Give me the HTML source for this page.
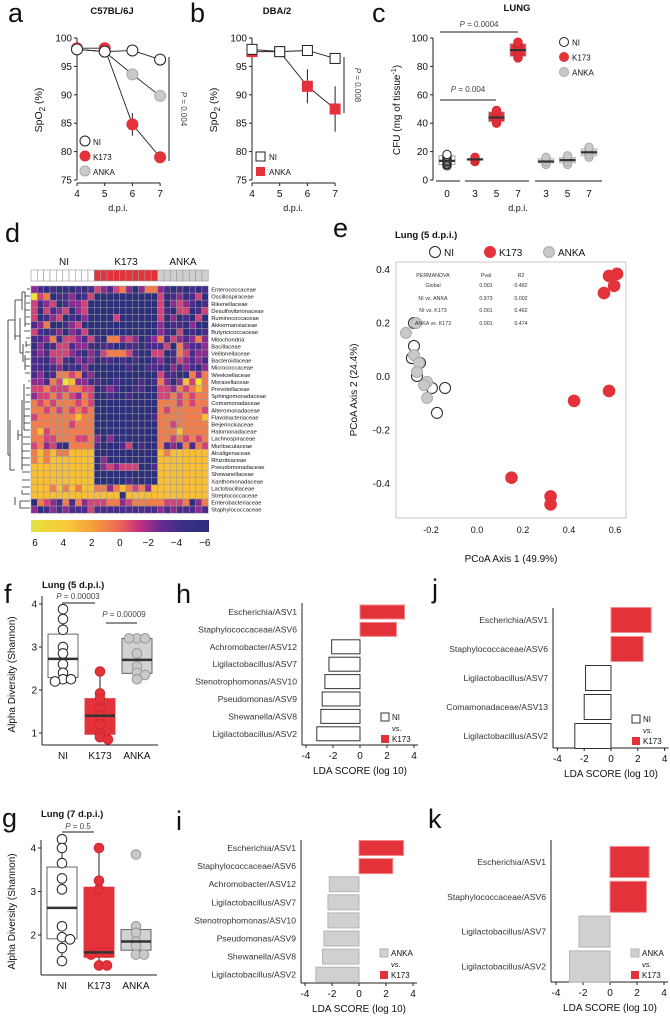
<!DOCTYPE html>
<html><head><meta charset="utf-8"><style>
html,body{margin:0;padding:0;background:#fff}
svg{display:block;font-family:"Liberation Sans",Arial,sans-serif}
</style></head><body>
<svg id="fig" width="670" height="1016" viewBox="0 0 670 1016" xmlns="http://www.w3.org/2000/svg">
<defs><linearGradient id="cbar" x1="0" x2="1" y1="0" y2="0">
<stop offset="0" stop-color="#e4e23c"/><stop offset="0.2" stop-color="#f8c938"/><stop offset="0.36" stop-color="#f59a3c"/><stop offset="0.5" stop-color="#ec6656"/><stop offset="0.6" stop-color="#c8327f"/><stop offset="0.72" stop-color="#6e2a8e"/><stop offset="0.85" stop-color="#3a2f86"/><stop offset="1" stop-color="#2d2f7a"/></linearGradient></defs>
<g font-size="27" fill="#111">
<text x="8" y="22">a</text>
<text x="190" y="22">b</text>
<text x="372" y="22">c</text>
<text x="5" y="242">d</text>
<text x="333" y="237">e</text>
<text x="4" y="603">f</text>
<text x="176" y="603">h</text>
<text x="432" y="598">j</text>
<text x="2" y="827">g</text>
<text x="176" y="830">i</text>
<text x="428" y="828">k</text>
</g>
<g font-weight="bold" font-size="9.5" fill="#111">
<text x="112" y="14" text-anchor="middle">C57BL/6J</text>
<text x="277" y="14" text-anchor="middle">DBA/2</text>
<text x="517" y="11" text-anchor="middle">LUNG</text>
<text x="395" y="238">Lung (5 d.p.i.)</text>
<text x="42" y="588">Lung (5 d.p.i.)</text>
<text x="41" y="817">Lung (7 d.p.i.)</text>
</g>
</svg>
<script>
// ---------- data ----------
const aDays=[4,5,6,7];
const aNI=[98,97.6,97.8,96.2];
const aK173=[98.2,98.2,84.8,79];
const aANKA=[98,97.6,93.6,89.8];
const aK173Err=[0,0,2,0];
const bNI=[98,97.6,97.8,96.4];
const bANKA=[97.6,97.6,91.5,87.5];
const bANKAErr=[0,0,3,4];
const spTicks=[100,95,90,85,80,75];
const cLabels=['0','3','5','7','3','5','7'];
const cGroups=['NI','K173','K173','K173','ANKA','ANKA','ANKA'];
const cMedian=[13.5,14.5,44,91.5,13,14,19.5];
const cPoints=[[10,11,12,13,14,15,16,17,18],[13,14,15,16],[40,42,44,46,48,49],[86,88,90,92,94,96,97],[11,13,15,16],[11,13,15,17],[16,18,20,22,23]];
const cTicks=[0,20,40,60,80,100];
const hmRows=['Enterococcaceae','Oscillospiraceae','Rikenellaceae','Desulfovibrionaceae','Ruminococcaceae','Akkermansiaceae','Butyricicoccaceae','Mitochondria','Bacillaceae','Veillonellaceae','Bacteroidaceae','Micrococcaceae','Weeksellaceae','Moraxellaceae','Prevotellaceae','Sphingomonadaceae','Comamonadaceae','Alteromonadaceae','Flavobacteriaceae','Beijerinckiaceae','Halomonadaceae','Lachnospiraceae','Muribaculaceae','Alcaligenaceae','Rhizobiaceae','Pseudomonadaceae','Shewanellaceae','Xanthomonadaceae','Lactobacillaceae','Streptococcaceae','Enterobacteriaceae','Staphylococcaceae'];
const hmGroups=['NI','NI','NI','NI','NI','NI','NI','NI','NI','NI','K173','K173','K173','K173','K173','K173','K173','K173','K173','K173','ANKA','ANKA','ANKA','ANKA','ANKA','ANKA','ANKA','ANKA'];
const hmValues=[
"2101000101"+"3213420244"+"21010101",
"6340112013"+"0000000000"+"30120130",
"3123012230"+"0000000000"+"30232101",
"3031230230"+"0000000000"+"31033013",
"3012301020"+"0003000000"+"30201030",
"1240012300"+"0000000000"+"20110200",
"3101202130"+"0000000000"+"21030101",
"1124133213"+"1044232012"+"41321242",
"0201331221"+"0110011011"+"13042112",
"1213332102"+"1344431003"+"30143122",
"1102310212"+"0110101001"+"20132121",
"1101201020"+"0000010011"+"10212102",
"1201443412"+"0000000000"+"31100424",
"2214365221"+"1001000101"+"42025364",
"3343334433"+"0121001100"+"33243454",
"2334343243"+"0010010000"+"33434344",
"4343444343"+"0000000000"+"44434344",
"4434343434"+"0000000000"+"43444443",
"3444444544"+"0000000001"+"44444445",
"4444443444"+"0000000000"+"44344444",
"4534444444"+"0000000000"+"44454444",
"4433444334"+"2020000000"+"44343434",
"3423104444"+"1000130100"+"41214143",
"4545445555"+"0000000000"+"54555555",
"4545555555"+"0200000000"+"55555555",
"5555555555"+"0232333001"+"55555555",
"5555555555"+"0000000000"+"55555555",
"5555555555"+"0000010000"+"55555555",
"5554545455"+"4424543425"+"55555555",
"5555555555"+"5555055555"+"55555555",
"0432141423"+"3344234444"+"43334024",
"2012121113"+"1111111111"+"21211121"];
const hmTicks=['6','4','2','0','\u22122','\u22124','\u22126'];
const eNI=[[-0.274,0.198],[-0.274,0.112],[-0.283,0.067],[-0.248,0.049],[-0.261,0],[-0.196,-0.045],[-0.139,-0.045],[-0.174,-0.138]];
const eK173=[[0.574,0.374],[0.609,0.382],[0.596,0.337],[0.552,0.31],[0.574,-0.056],[0.422,-0.093],[0.15,-0.38],[0.32,-0.45],[0.32,-0.48]];
const eANKA=[[-0.265,0.198],[-0.309,0.161],[-0.274,0.078],[-0.252,0.049],[-0.261,0.015],[-0.217,-0.022],[-0.23,-0.034],[-0.217,-0.082]];
const eXTicks=[-0.2,0,0.2,0.4,0.6];
const eYTicks=[0.4,0.2,0,-0.2,-0.4];
const fNI=[3.88,3.65,3.4,3.0,2.85,2.6,2.4,2.25,2.2,2.25];
const fK173=[2.43,1.92,1.8,1.55,1.4,1.2,0.97,0.9,0.85];
const fANKA=[3.2,3.2,3.2,2.85,2.55,2.4,2.35,2.25];
const gNI=[4.2,4.0,3.65,3.3,3.05,2.2,1.95,1.9,1.7,1.4];
const gK173=[4.0,3.25,3.05,1.6,1.6,1.55,1.3,1.3];
const gANKA=[3.85,2.2,2.05,1.85,1.75,1.55,1.55];
const hLabels=['Escherichia/ASV1','Staphylococcaceae/ASV6','Achromobacter/ASV12','Ligilactobacillus/ASV7','Stenotrophomonas/ASV10','Pseudomonas/ASV9','Shewanella/ASV8','Ligilactobacillus/ASV2'];
const hValues=[3.3,2.7,-2.1,-2.3,-2.6,-2.8,-2.9,-3.2];
const iLabels=['Escherichia/ASV1','Staphylococcaceae/ASV6','Achromobacter/ASV12','Ligilactobacillus/ASV7','Stenotrophomonas/ASV10','Pseudomonas/ASV9','Shewanella/ASV8','Ligilactobacillus/ASV2'];
const iValues=[3.3,2.5,-2.2,-2.3,-2.3,-2.6,-2.7,-3.2];
const jLabels=['Escherichia/ASV1','Staphylococcaceae/ASV6','Ligilactobacillus/ASV7','Comamonadaceae/ASV13','Ligilactobacillus/ASV2'];
const jValues=[3.0,2.4,-1.9,-2.0,-2.7];
const kLabels=['Escherichia/ASV1','Staphylococcaceae/ASV6','Ligilactobacillus/ASV7','Ligilactobacillus/ASV2'];
const kValues=[2.9,2.7,-2.3,-3.0];
const ldaTicks=[-4,-2,0,2,4];

// ---------- helpers ----------
const NS='http://www.w3.org/2000/svg';
const svg=document.getElementById('fig');
const RED='#e3323a', GREY='#c9c9c9', DARK='#222';
function el(tag,attrs,name){
  const e=document.createElementNS(NS,tag);
  for(const k in attrs) e.setAttribute(k,attrs[k]);
  svg.appendChild(e);
  
  
  return e;
}
function txt(x,y,s,size,anchor,name,extra){
  const t=el('text',Object.assign({x:x,y:y,'font-size':size,'text-anchor':anchor||'start',fill:'#111'},extra||{}),name);
  t.textContent=s;
  return t;
}
function ptxt(x,y,val,size,anchor,name,extra){
  const t=el('text',Object.assign({x:x,y:y,'font-size':size,'text-anchor':anchor||'start',fill:'#444'},extra||{}),name);
  t.innerHTML='<tspan font-style="italic">P</tspan> = '+val;
  return t;
}
function line(x1,y1,x2,y2,name,w,col){
  return el('line',{x1:x1,y1:y1,x2:x2,y2:y2,stroke:col||'#222','stroke-width':w||1},name);
}
function dot(x,y,r,fill,stroke,name){
  return el('circle',{cx:x,cy:y,r:r,fill:fill,stroke:stroke,'stroke-width':1},name);
}

// ---------- panel a ----------
const ya=v=>38+(100-v)*5.68;
const xa=d=>77+(d-4)*27.7;
function spAxes(x0,prefix){
  line(x0,38,x0,180,prefix+'-y-axis');
  spTicks.forEach(v=>{line(x0-3,ya(v),x0,ya(v),prefix+'-y-tick');txt(x0-5,ya(v)+3.5,String(v),10,'end',prefix+'-y-tick-label');});
  line(x0,183,x0+83,183,prefix+'-x-axis');
  aDays.forEach(d=>{const x=x0+(d-4)*27.7;line(x,183,x,186,prefix+'-x-tick');txt(x,197,String(d),10,'middle',prefix+'-x-tick-label');});
  txt(x0+41,211,'d.p.i.',9,'middle',prefix+'-x-axis-title');
  const t=txt(0,0,'',10.5,'middle',prefix+'-y-axis-title',{transform:'translate('+(x0-35)+',110) rotate(-90)'});
  t.innerHTML='SpO<tspan font-size="8" dy="3">2</tspan><tspan dy="-3"> (%)</tspan>';
}
spAxes(77,'panel-a');
function series(xs,vals,xf,name){
  const p=vals.map((v,i)=>xf(xs[i])+','+ya(v)).join(' ');
  el('polyline',{points:p,fill:'none',stroke:'#222','stroke-width':0.9},name);
}
series(aDays,aK173,xa,'k173-line');
series(aDays,aANKA,xa,'anka-line');
series(aDays,aNI,xa,'ni-line');
aK173.forEach((v,i)=>{if(aK173Err[i])line(xa(aDays[i]),ya(v+aK173Err[i]),xa(aDays[i]),ya(v-aK173Err[i]),'k173-error-bar');});
aK173.forEach((v,i)=>dot(xa(aDays[i]),ya(v),5.5,RED,RED,'k173-point'));
aANKA.forEach((v,i)=>dot(xa(aDays[i]),ya(v),5.5,GREY,'#aaa','anka-point'));
aNI.forEach((v,i)=>dot(xa(aDays[i]),ya(v),5.5,'#fff','#222','ni-point'));
line(169,57,169,161,'p-value-bracket-a');
ptxt(0,0,'0.004',8,'middle','p-value-a',{transform:'translate(181,109) rotate(90)'});
dot(85,141,5,'#fff','#222','legend-ni-marker');txt(93,145,'NI',8,'start','legend-ni-label');
dot(85,156,5,RED,RED,'legend-k173-marker');txt(93,160,'K173',8,'start','legend-k173-label');
dot(85,171,5,GREY,'#aaa','legend-anka-marker');txt(93,175,'ANKA',8,'start','legend-anka-label');

// ---------- panel b ----------
const xb=d=>252+(d-4)*27.7;
spAxes(252,'panel-b');
series(aDays,bANKA,xb,'anka-line');
series(aDays,bNI,xb,'ni-line');
bANKA.forEach((v,i)=>{if(bANKAErr[i])line(xb(aDays[i]),ya(v+bANKAErr[i]),xb(aDays[i]),ya(v-bANKAErr[i]),'anka-error-bar');});
bANKA.forEach((v,i)=>el('rect',{x:xb(aDays[i])-5.5,y:ya(v)-5.5,width:11,height:11,fill:RED},'anka-point'));
bNI.forEach((v,i)=>el('rect',{x:xb(aDays[i])-5,y:ya(v)-5,width:10,height:10,fill:'#fff',stroke:'#222'},'ni-point'));
line(344,57,344,113,'p-value-bracket-b');
ptxt(0,0,'0.008',8,'middle','p-value-b',{transform:'translate(355,85) rotate(90)'});
el('rect',{x:256,y:152,width:9,height:9,fill:'#fff',stroke:'#222'},'legend-ni-marker');txt(269,160,'NI',8,'start','legend-ni-label');
el('rect',{x:256,y:167,width:9,height:9,fill:RED},'legend-anka-marker');txt(269,175,'ANKA',8,'start','legend-anka-label');

// ---------- panel c ----------
const yc=v=>180-v*1.42;
function xc(i){const g=cGroups[i];if(g==='NI')return 447;if(g==='K173')return 475+(i-1)*21.5;return 546+(i-4)*21.5;}
line(433,38,433,180,'panel-c-y-axis');
cTicks.forEach(v=>{line(430,yc(v),433,yc(v),'panel-c-y-tick');txt(428,yc(v)+3.5,String(v),10,'end','panel-c-y-tick-label');});
line(436,181,460,181,'panel-c-x-axis-ni');line(465,181,529,181,'panel-c-x-axis-k173');line(535,181,602,181,'panel-c-x-axis-anka');
cLabels.forEach((l,i)=>txt(xc(i),197,l,10,'middle','panel-c-x-tick-label'));
txt(518,211,'d.p.i.',9,'middle','panel-c-x-axis-title');
{const t=txt(0,0,'',10,'middle','panel-c-y-axis-title',{transform:'translate(400,110) rotate(-90)'});t.innerHTML='CFU (mg of tissue<tspan font-size="7" dy="-4">-1</tspan><tspan dy="4">)</tspan>';}
cPoints.forEach((pts,i)=>{
  const g=cGroups[i];const mn=Math.min(...pts),mx=Math.max(...pts);
  const fill=g==='NI'?'#fff':g==='K173'?RED:'#d4d4d4';
  el('rect',{x:xc(i)-8,y:yc(mx-1),width:16,height:yc(mn+1)-yc(mx-1),fill:fill,stroke:g==='NI'?'#888':'#bbb','stroke-width':0.8},'cfu-box-'+g.toLowerCase());
  pts.forEach(v=>dot(xc(i),yc(v),4.2,g==='NI'?'#fff':g==='K173'?RED:GREY,g==='NI'?'#222':g==='K173'?'#d02830':'#aaa','cfu-point-'+g.toLowerCase()));
  line(xc(i)-8,yc(cMedian[i]),xc(i)+8,yc(cMedian[i]),'cfu-median',2.2,'#333');
});
line(440,32,518,32,'p-bracket-0004');ptxt(479,27,'0.0004',8,'middle','p-value-0004');
line(440,100,496,100,'p-bracket-004');ptxt(468,92,'0.004',8,'middle','p-value-004');
dot(564,42,4.5,'#fff','#222','legend-ni-marker');txt(572,45.5,'NI',8,'start','legend-ni-label');
dot(564,57,4.5,RED,RED,'legend-k173-marker');txt(572,60.5,'K173',8,'start','legend-k173-label');
dot(564,72,4.5,GREY,'#aaa','legend-anka-marker');txt(572,75.5,'ANKA',8,'start','legend-anka-label');

// ---------- panel d heatmap ----------
const hmColors=['#2d2f7c','#4a2b8c','#8c2b90','#d2437a','#f07d4c','#f8bf36','#f1e534'];
const HX=31,HY=286,CW=6.33,RH=7.1;
txt(64,265,'NI',10,'middle','heatmap-group-ni');
txt(126,265,'K173',10,'middle','heatmap-group-k173');
txt(183,265,'ANKA',10,'middle','heatmap-group-anka');
hmGroups.forEach((g,c)=>el('rect',{x:HX+c*CW,y:270,width:CW,height:11,fill:g==='NI'?'#fff':g==='K173'?RED:'#cfcfcf',stroke:'#999','stroke-width':0.6},'heatmap-column-annotation'));
hmValues.forEach((row,r)=>{
  for(let c=0;c<row.length;c++){
    el('rect',{x:HX+c*CW,y:HY+r*RH,width:CW,height:RH,fill:hmColors[+row[c]],stroke:'#9a9a9a','stroke-width':0.5},'heatmap-cell');
  }
  txt(HX+hmGroups.length*CW+3,HY+r*RH+5.6,hmRows[r],5.8,'start','heatmap-row-label');
});
el('path',{d:'M30,289 H27 M30,296 H25 M30,303 H26 M30,310 H25 M30,317 H26 M30,324 H25 M30,331 H24 M25,292 V327 M22,292 H25 M22,292 V310 M15,300 H22 M30,338 H26 M30,345 H26 M30,352 H25 M30,359 H25 M30,366 H25 M30,373 H25 M26,341 V347 M25,355 V370 M23,344 V362 M20,353 H23 M20,353 V318 M15,336 H20 M30,381 H28 M30,388 H26 M30,395 H26 M30,402 H25 M30,409 H25 M30,416 H24 M30,423 H24 M30,430 H24 M30,437 H23 M30,444 H23 M30,451 H22 M30,458 H22 M30,465 H22 M30,472 H22 M30,480 H22 M30,487 H22 M24,384 V430 M22,400 V470 M18,430 V440 M18,435 H22 M30,494 H22 M30,501 H20 M30,508 H20 M22,494 V490 M20,501 V508 M15,497 V505 M10,420 V470 M10,470 H15 M15,300 V340 M8,320 H15 M8,320 V455 M8,455 H10',fill:'none',stroke:'#222','stroke-width':0.8},'heatmap-dendrogram');
el('rect',{x:31,y:520,width:178,height:12,fill:'url(#cbar)'},'heatmap-colorbar');
hmTicks.forEach((t,i)=>txt(35+i*28.3,546,t,10,'middle','colorbar-tick-label'));

// ---------- panel e PCoA ----------
const xe=v=>477+v*230, ye=v=>376-v*267.5;
el('rect',{x:396,y:262,width:230,height:256,fill:'none',stroke:'#bbb','stroke-width':0.8},'pcoa-plot-frame');
eYTicks.forEach(v=>txt(390,ye(v)+4,v.toFixed(1).replace('-0.0','0.0'),10,'end','pcoa-y-tick-label'));
eXTicks.forEach(v=>txt(xe(v),533,v.toFixed(1),9,'middle','pcoa-x-tick-label'));
txt(511,562,'PCoA Axis 1 (49.9%)',10,'middle','pcoa-x-axis-title');
txt(0,0,'PCoA Axis 2 (24.4%)',10,'middle','pcoa-y-axis-title',{transform:'translate(357,390) rotate(-90)'});
eNI.forEach(p=>dot(xe(p[0]),ye(p[1]),5.5,'#fff','#222','pcoa-ni-point'));
eANKA.forEach(p=>dot(xe(p[0]),ye(p[1]),5.5,GREY,'#aaa','pcoa-anka-point'));
eK173.forEach(p=>dot(xe(p[0]),ye(p[1]),5.8,RED,RED,'pcoa-k173-point'));
dot(435,252,5.5,'#fff','#222','legend-ni-marker');txt(444,256,'NI',10,'start','legend-ni-label');
dot(490,252,5.5,RED,RED,'legend-k173-marker');txt(499,256,'K173',10,'start','legend-k173-label');
dot(549,252,5.5,GREY,'#aaa','legend-anka-marker');txt(558,256,'ANKA',10,'start','legend-anka-label');
[['PERMANOVA','Pval','R2',277],['Global','0.001','0.482',287],['NI vs. ANKA','0.973','0.002',300],['NI vs. K173','0.001','0.462',312],['ANKA vs. K173','0.001','0.474',325]].forEach(r=>{
  txt(433,r[3],r[0],5.3,'middle','permanova-row-label',{fill:'#333'});
  txt(486,r[3],r[1],5.3,'middle','permanova-pval',{fill:'#333'});
  txt(521,r[3],r[2],5.3,'middle','permanova-r2',{fill:'#333'});
});

// ---------- panels f, g boxplots ----------
function quant(a,q){const s=[...a].sort((x,y)=>x-y);const p=(s.length-1)*q;const lo=Math.floor(p);return s[lo]+(s[Math.ceil(p)]-s[lo])*(p-lo);}
function boxPanel(x0,yTop,unit,yMaxV,axisBottom,ticks,groups,prefix){
  const yf=v=>yTop+(yMaxV-v)*unit;
  line(x0,yTop-8,x0,axisBottom,prefix+'-y-axis');
  line(x0,axisBottom,x0+116,axisBottom,prefix+'-x-axis');
  ticks.forEach(v=>{line(x0-3,yf(v),x0,yf(v),prefix+'-y-tick');txt(x0-5,yf(v)+3.5,String(v),10,'end',prefix+'-y-tick-label');});
  txt(0,0,'Alpha Diversity (Shannon)',10,'middle',prefix+'-y-axis-title',{transform:'translate(15,'+((yTop+axisBottom)/2)+') rotate(-90)'});
  groups.forEach((g,i)=>{
    const cx=x0+21+i*37;
    const q1=quant(g.v,0.25),md=quant(g.v,0.5),q3=quant(g.v,0.75),iqr=q3-q1;
    const inl=g.v.filter(v=>v>=q1-1.5*iqr&&v<=q3+1.5*iqr);
    const fill=g.n==='NI'?'#fff':g.n==='K173'?RED:'#d2d2d2';
    line(cx,yf(Math.max(...inl)),cx,yf(Math.min(...inl)),prefix+'-whisker');
    el('rect',{x:cx-15,y:yf(q3),width:30,height:yf(q1)-yf(q3),fill:fill,stroke:g.n==='K173'?RED:'#555','stroke-width':0.9},prefix+'-box-'+g.n.toLowerCase());
    const sorted=[...g.v].sort((a,b)=>b-a);let prev=null,k=0;
    sorted.forEach(v=>{
      if(prev!==null&&Math.abs(prev-v)<0.06){k++;}else k=0;prev=v;
      const off=k===0?0:(k%2?8:-8);
      dot(cx+off,yf(v),4.8,g.n==='NI'?'#fff':g.n==='K173'?RED:GREY,g.n==='NI'?'#222':g.n==='K173'?'#d02830':'#999',prefix+'-point-'+g.n.toLowerCase());
    });
    line(cx-15,yf(md),cx+15,yf(md),prefix+'-median',2.5,'#333');
    txt(cx,axisBottom+14,g.n,10,'middle',prefix+'-x-tick-label');
  });
}
boxPanel(42,604,43,4,745,[1,2,3,4],[{n:'NI',v:fNI},{n:'K173',v:fK173},{n:'ANKA',v:fANKA}],'panel-f');
line(62,603,95,603,'p-bracket-f1');ptxt(78,599,'0.00003',8,'middle','p-value-f1');
line(106,623,137,623,'p-bracket-f2');ptxt(124,617,'0.00009',8,'middle','p-value-f2');
boxPanel(41,848,43.5,4,975,[2,3,4],[{n:'NI',v:gNI},{n:'K173',v:gK173},{n:'ANKA',v:gANKA}],'panel-g');
line(62,832,94,832,'p-bracket-g');ptxt(78,829,'0.5',8,'middle','p-value-g');

// ---------- LDA panels ----------
function lda(c,labels,values,prefix,negFill,negStroke,legName){
  const xf=v=>c.zero+v*c.unit;
  line(c.ax,c.top,c.ax,c.bottom,prefix+'-y-axis');
  line(c.ax,c.bottom,xf(4.3),c.bottom,prefix+'-x-axis');
  ldaTicks.forEach(t=>{line(xf(t),c.bottom,xf(t),c.bottom+3,prefix+'-x-tick');txt(xf(t),c.bottom+14,String(t),10,'middle',prefix+'-x-tick-label');});
  txt(c.zero,c.bottom+29,'LDA SCORE (log 10)',10,'middle',prefix+'-x-axis-title');
  labels.forEach((l,i)=>{
    const y=c.y0+i*c.step, v=values[i];
    txt(c.ax-5,y+3,l,c.fs,'end',prefix+'-bar-label',{fill:'#333'});
    const x=Math.min(xf(0),xf(v)), w=Math.abs(xf(v)-xf(0));
    el('rect',{x:x,y:y-c.bh/2,width:w,height:c.bh,fill:v>0?RED:negFill,stroke:v>0?'#f08a8e':negStroke,'stroke-width':1},prefix+(v>0?'-bar-k173':'-bar-'+legName.toLowerCase()));
  });
  el('rect',{x:c.lx,y:c.ly-7,width:8,height:8,fill:negFill,stroke:negStroke},prefix+'-legend-marker-'+legName.toLowerCase());
  txt(c.lx+11,c.ly,legName,8,'start',prefix+'-legend-label');
  txt(c.lx+11,c.ly+11,'vs.',7.5,'start',prefix+'-legend-vs',{'font-style':'italic'});
  el('rect',{x:c.lx,y:c.ly+15,width:8,height:8,fill:RED},prefix+'-legend-marker-k173');
  txt(c.lx+11,c.ly+22,'K173',8,'start',prefix+'-legend-label');
}
lda({ax:302,top:603,bottom:745,zero:360,unit:13.5,y0:612,step:17.4,bh:14,fs:8.6,lx:381,ly:720},hLabels,hValues,'panel-h','#fff','#333','NI');
lda({ax:301,top:840,bottom:983,zero:359,unit:13.5,y0:848,step:18.1,bh:15,fs:8.6,lx:380,ly:956},iLabels,iValues,'panel-i','#d0d0d0','#b5b5b5','ANKA');
lda({ax:553,top:608,bottom:748,zero:611,unit:13.4,y0:620,step:29,bh:25,fs:8.6,lx:632,ly:722},jLabels,jValues,'panel-j','#fff','#333','NI');
lda({ax:551,top:840,bottom:982,zero:610,unit:13.5,y0:862,step:34.8,bh:31,fs:8.6,lx:631,ly:956},kLabels,kValues,'panel-k','#d0d0d0','#b5b5b5','ANKA');
</script>
</body></html>
